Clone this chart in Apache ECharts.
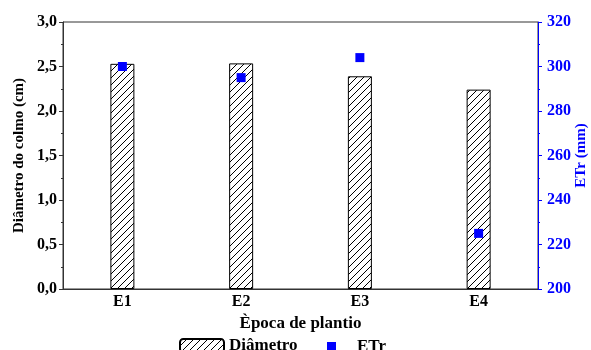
<!DOCTYPE html>
<html>
<head>
<meta charset="utf-8">
<script src="https://cdn.jsdelivr.net/npm/echarts@6/dist/echarts.min.js"></script>
<style>
html,body{margin:0;padding:0;background:#fff;overflow:hidden;}
#chart{width:591px;height:350px;}
</style>
</head>
<body>
<div id="chart"></div>
<script>
const categories = ['E1', 'E2', 'E3', 'E4'];
const diametro = [2.53, 2.535, 2.39, 2.24];
const etr = [300, 295, 304, 225];
const leftTicks = [0, 0.5, 1.0, 1.5, 2.0, 2.5, 3.0];
const rightTicks = [200, 220, 240, 260, 280, 300, 320];

const FONT = '"Liberation Serif", "Times New Roman", serif';

function hatch() {
  const c = document.createElement('canvas');
  const s = 7;
  c.width = s; c.height = s;
  const ctx = c.getContext('2d');
  ctx.fillStyle = '#ffffff';
  ctx.fillRect(0, 0, s, s);
  ctx.fillStyle = '#000000';
  for (let i = 0; i < s; i++) ctx.fillRect(i, s - 1 - i, 1, 1);
  return c;
}
const pattern = { image: hatch(), repeat: 'repeat' };

const chart = echarts.init(document.getElementById('chart'));
chart.setOption({
  animation: false,
  backgroundColor: '#fff',
  textStyle: { fontFamily: FONT, fontWeight: 'bold' },
  grid: { left: 63, right: 53, top: 22, bottom: 61, show: true, borderColor: '#333', borderWidth: 1, backgroundColor: 'transparent', containLabel: false, outerBoundsMode: 'none' },
  legend: [{
    data: ['Diâmetro'],
    left: 179, top: 337, padding: 0,
    itemWidth: 44, itemHeight: 13,
    textStyle: { fontFamily: FONT, fontWeight: 'bold', fontSize: 17, color: '#000', padding: [0, 0, 5, 0] }
  }, {
    data: ['ETr'],
    left: 327, top: 338, padding: 0,
    itemWidth: 9, itemHeight: 9,
    textStyle: { fontFamily: FONT, fontWeight: 'bold', fontSize: 17, color: '#000', padding: [0, 0, 5, 16] }
  }],
  xAxis: {
    type: 'category',
    data: categories,
    name: 'Època de plantio',
    nameLocation: 'middle',
    nameGap: 25,
    nameTextStyle: { fontFamily: FONT, fontWeight: 'bold', fontSize: 17, color: '#000' },
    axisLine: { lineStyle: { color: '#333', width: 1 } },
    axisTick: { alignWithLabel: true, length: 4, lineStyle: { color: '#333' } },
    axisLabel: { fontFamily: FONT, fontWeight: 'bold', fontSize: 16, color: '#000', margin: 5 },
    splitLine: { show: false }
  },
  yAxis: [{
    type: 'value',
    min: leftTicks[0], max: leftTicks[leftTicks.length - 1], interval: 0.5,
    name: 'Diâmetro do colmo (cm)',
    nameLocation: 'middle',
    nameGap: 36,
    nameMoveOverlap: false,
    nameTextStyle: { fontFamily: FONT, fontWeight: 'bold', fontSize: 15, color: '#000' },
    axisLine: { show: true, lineStyle: { color: '#333', width: 1 } },
    axisTick: { show: true, length: 4, lineStyle: { color: '#333' } },
    minorTick: { show: true, splitNumber: 2, length: 2, lineStyle: { color: '#333' } },
    axisLabel: { fontFamily: FONT, fontWeight: 'bold', fontSize: 16, color: '#000', margin: 6,
      formatter: v => v.toFixed(1).replace('.', ',') },
    splitLine: { show: false }
  }, {
    type: 'value',
    position: 'right',
    min: rightTicks[0], max: rightTicks[rightTicks.length - 1], interval: 20,
    name: 'ETr (mm)',
    nameLocation: 'middle',
    nameGap: 36,
    nameMoveOverlap: false,
    nameRotate: 90,
    nameTextStyle: { fontFamily: FONT, fontWeight: 'bold', fontSize: 15, color: '#0000ff' },
    axisLine: { show: true, lineStyle: { color: '#0000ff', width: 1 } },
    axisTick: { show: true, length: 4, lineStyle: { color: '#0000ff' } },
    minorTick: { show: true, splitNumber: 2, length: 2, lineStyle: { color: '#0000ff' } },
    axisLabel: { fontFamily: FONT, fontWeight: 'bold', fontSize: 16, color: '#0000ff', margin: 9 },
    splitLine: { show: false }
  }],
  series: [{
    name: 'Diâmetro',
    type: 'bar',
    data: diametro,
    barWidth: 24,
    itemStyle: { color: pattern, borderColor: '#000', borderWidth: 1 }
  }, {
    name: 'ETr',
    type: 'scatter',
    yAxisIndex: 1,
    data: etr,
    symbol: 'rect',
    symbolSize: 9,
    itemStyle: { color: '#0000ff', opacity: 1 },
    z: 5
  }]
});
</script>
</body>
</html>
